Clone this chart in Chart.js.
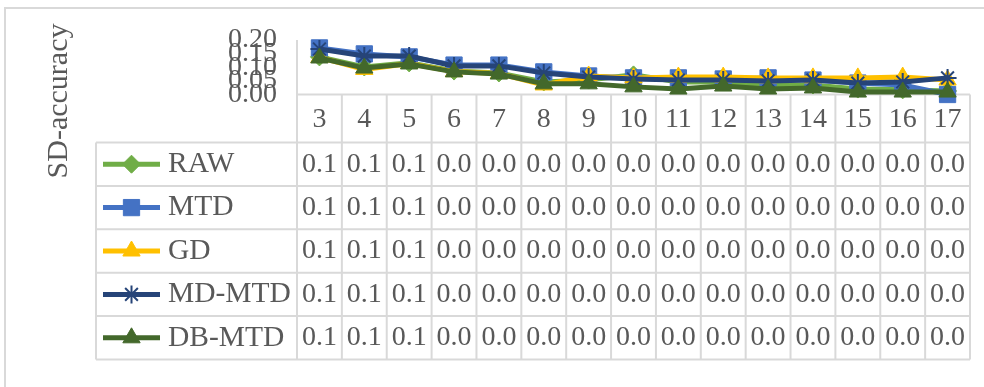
<!DOCTYPE html>
<html>
<head>
<meta charset="utf-8">
<script src="https://cdn.jsdelivr.net/npm/chart.js@4.4.1/dist/chart.umd.min.js"></script>
<style>
    html, body { margin: 0; padding: 0; background: #ffffff; }
    #wrap { width: 984px; height: 387px; position: relative; }
</style>
</head>
<body>
<div id="wrap"><canvas id="sd_accuracy_canvas" width="984" height="387"></canvas></div>
<script>
// values
const categories = ['3', '4', '5', '6', '7', '8', '9', '10', '11', '12', '13', '14', '15', '16', '17'];
const series_names = ['RAW', 'MTD', 'GD', 'MD-MTD', 'DB-MTD'];

const raw_values    = [0.138, 0.101, 0.116, 0.086, 0.079, 0.046, 0.053, 0.072, 0.046, 0.046, 0.035, 0.035, 0.020, 0.017, 0.013];
const mtd_values    = [0.171, 0.149, 0.138, 0.108, 0.108, 0.083, 0.068, 0.061, 0.061, 0.057, 0.061, 0.053, 0.042, 0.035, 0.000];
const gd_values     = [0.136, 0.092, 0.114, 0.084, 0.077, 0.035, 0.068, 0.061, 0.064, 0.064, 0.061, 0.061, 0.061, 0.064, 0.053];
const md_mtd_values = [0.167, 0.141, 0.141, 0.105, 0.105, 0.079, 0.064, 0.057, 0.053, 0.053, 0.050, 0.053, 0.042, 0.046, 0.061];
const db_mtd_values = [0.134, 0.097, 0.112, 0.083, 0.075, 0.039, 0.039, 0.028, 0.020, 0.031, 0.020, 0.024, 0.009, 0.009, 0.009];

// data table text as printed under the chart
const raw_table    = ['0.1', '0.1', '0.1', '0.0', '0.0', '0.0', '0.0', '0.0', '0.0', '0.0', '0.0', '0.0', '0.0', '0.0', '0.0'];
const mtd_table    = ['0.1', '0.1', '0.1', '0.0', '0.0', '0.0', '0.0', '0.0', '0.0', '0.0', '0.0', '0.0', '0.0', '0.0', '0.0'];
const gd_table     = ['0.1', '0.1', '0.1', '0.0', '0.0', '0.0', '0.0', '0.0', '0.0', '0.0', '0.0', '0.0', '0.0', '0.0', '0.0'];
const md_mtd_table = ['0.1', '0.1', '0.1', '0.0', '0.0', '0.0', '0.0', '0.0', '0.0', '0.0', '0.0', '0.0', '0.0', '0.0', '0.0'];
const db_mtd_table = ['0.1', '0.1', '0.1', '0.0', '0.0', '0.0', '0.0', '0.0', '0.0', '0.0', '0.0', '0.0', '0.0', '0.0', '0.0'];

const y_min = 0;
const y_max = 0.2;
const y_step = 0.05;
const y_title = 'SD-accuracy';

const font_family = "'Times New Roman', 'Liberation Serif', serif";
const text_color = '#595959';
const grid_color = '#d9d9d9';

// layout of the data table
const table_left = 96;
const header_bottom = 142.5;
const row_height = 43.4;
const table_bottom = header_bottom + row_height * 5;

const styles = [
    {color: '#70ad47', point: 'rectRot', radius: 9, border: 1},
    {color: '#4472c4', point: 'rect', radius: 11.5, border: 1},
    {color: '#ffc000', point: 'triangle', radius: 10, border: 1},
    {color: '#264478', point: 'star', radius: 9, border: 2},
    {color: '#43682b', point: 'triangle', radius: 10, border: 1}
];

const all_values = [raw_values, mtd_values, gd_values, md_mtd_values, db_mtd_values];
const all_tables = [raw_table, mtd_table, gd_table, md_mtd_table, db_mtd_table];

function draw_marker(ctx, style, x, y) {
    ctx.fillStyle = style.color;
    ctx.strokeStyle = style.color;
    ctx.lineWidth = style.border;
    Chart.helpers.drawPoint(ctx, {pointStyle: style.point, rotation: 0, radius: style.radius, borderWidth: style.border}, x, y);
}

const data_table_plugin = {
    id: 'data_table',
    beforeDatasetsDraw(chart) {
        const ctx = chart.ctx;
        const area = chart.chartArea;
        const col_w = (area.right - area.left) / categories.length;

        ctx.save();
        ctx.strokeStyle = grid_color;
        ctx.lineWidth = 2;
        ctx.beginPath();
        ctx.moveTo(area.left, area.bottom);
        ctx.lineTo(area.right, area.bottom);
        for (let r = 0; r <= series_names.length; r++) {
            const y = header_bottom + r * row_height;
            ctx.moveTo(table_left, y);
            ctx.lineTo(area.right, y);
        }
        ctx.moveTo(area.left, area.top);
        ctx.lineTo(area.left, table_bottom);
        for (let i = 1; i <= categories.length; i++) {
            const x = area.left + i * col_w;
            ctx.moveTo(x, area.bottom);
            ctx.lineTo(x, table_bottom);
        }
        ctx.moveTo(table_left, header_bottom);
        ctx.lineTo(table_left, table_bottom);
        ctx.stroke();

        // chart border
        ctx.strokeRect(5, 8, 1000, 420);
        ctx.restore();
    },
    afterDraw(chart) {
        const ctx = chart.ctx;
        const area = chart.chartArea;
        const x_scale = chart.scales.x;

        ctx.save();
        ctx.fillStyle = text_color;
        ctx.font = '28px ' + font_family;
        ctx.textBaseline = 'middle';
        ctx.textAlign = 'center';

        const header_mid = (area.bottom + header_bottom) / 2 + 1;
        categories.forEach((c, i) => {
            ctx.fillText(c, x_scale.getPixelForValue(i), header_mid);
        });

        for (let r = 0; r < series_names.length; r++) {
            const y = header_bottom + (r + 0.5) * row_height;
            ctx.fillStyle = text_color;
            ctx.textAlign = 'center';
            ctx.font = '28px ' + font_family;
            all_tables[r].forEach((t, i) => {
                ctx.fillText(t, x_scale.getPixelForValue(i), y);
            });

            // legend key
            const style = styles[r];
            ctx.strokeStyle = style.color;
            ctx.lineWidth = 5;
            ctx.beginPath();
            ctx.moveTo(103, y);
            ctx.lineTo(160, y);
            ctx.stroke();
            draw_marker(ctx, style, 131.5, y);

            ctx.fillStyle = text_color;
            ctx.textAlign = 'left';
            ctx.font = '29.5px ' + font_family;
            ctx.fillText(series_names[r], 168, y);
        }

        // axis title
        ctx.translate(59, 101);
        ctx.rotate(-Math.PI / 2);
        ctx.font = '30px ' + font_family;
        ctx.textAlign = 'center';
        ctx.fillStyle = text_color;
        ctx.fillText(y_title, 0, 0);
        ctx.restore();
    }
};

const datasets = series_names.map((name, i) => ({
    label: name,
    data: all_values[i],
    borderColor: styles[i].color,
    backgroundColor: styles[i].color,
    borderWidth: 5,
    pointStyle: styles[i].point,
    pointRadius: styles[i].radius,
    pointBorderWidth: styles[i].border,
    pointBackgroundColor: styles[i].color,
    pointBorderColor: styles[i].color,
    tension: 0,
    clip: false,
    order: series_names.length - i
}));

const config = {
    type: 'line',
    data: {labels: categories, datasets: datasets},
    options: {
        responsive: false,
        devicePixelRatio: 1,
        animation: false,
        layout: {padding: {left: 0, top: 40, right: 14, bottom: 0}},
        plugins: {
            legend: {display: false},
            tooltip: {enabled: false}
        },
        scales: {
            x: {
                offset: true,
                grid: {display: false, drawTicks: false},
                border: {display: false},
                ticks: {display: false},
                afterFit: function (scale) {
                    scale.height = 387 - 94.5;
                    scale.paddingLeft = 0;
                    scale.paddingRight = 0;
                }
            },
            y: {
                min: y_min,
                max: y_max,
                grid: {display: false, drawTicks: false},
                border: {display: false},
                ticks: {
                    stepSize: y_step,
                    autoSkip: false,
                    padding: 20,
                    color: text_color,
                    font: {family: font_family, size: 28},
                    callback: (v) => v.toFixed(2)
                },
                afterFit: function (scale) {
                    scale.width = 297;
                    scale.paddingTop = 0;
                    scale.paddingBottom = 0;
                }
            }
        }
    },
    plugins: [data_table_plugin]
};

const sd_accuracy_plot = new Chart(document.getElementById('sd_accuracy_canvas'), config);
</script>
</body>
</html>
